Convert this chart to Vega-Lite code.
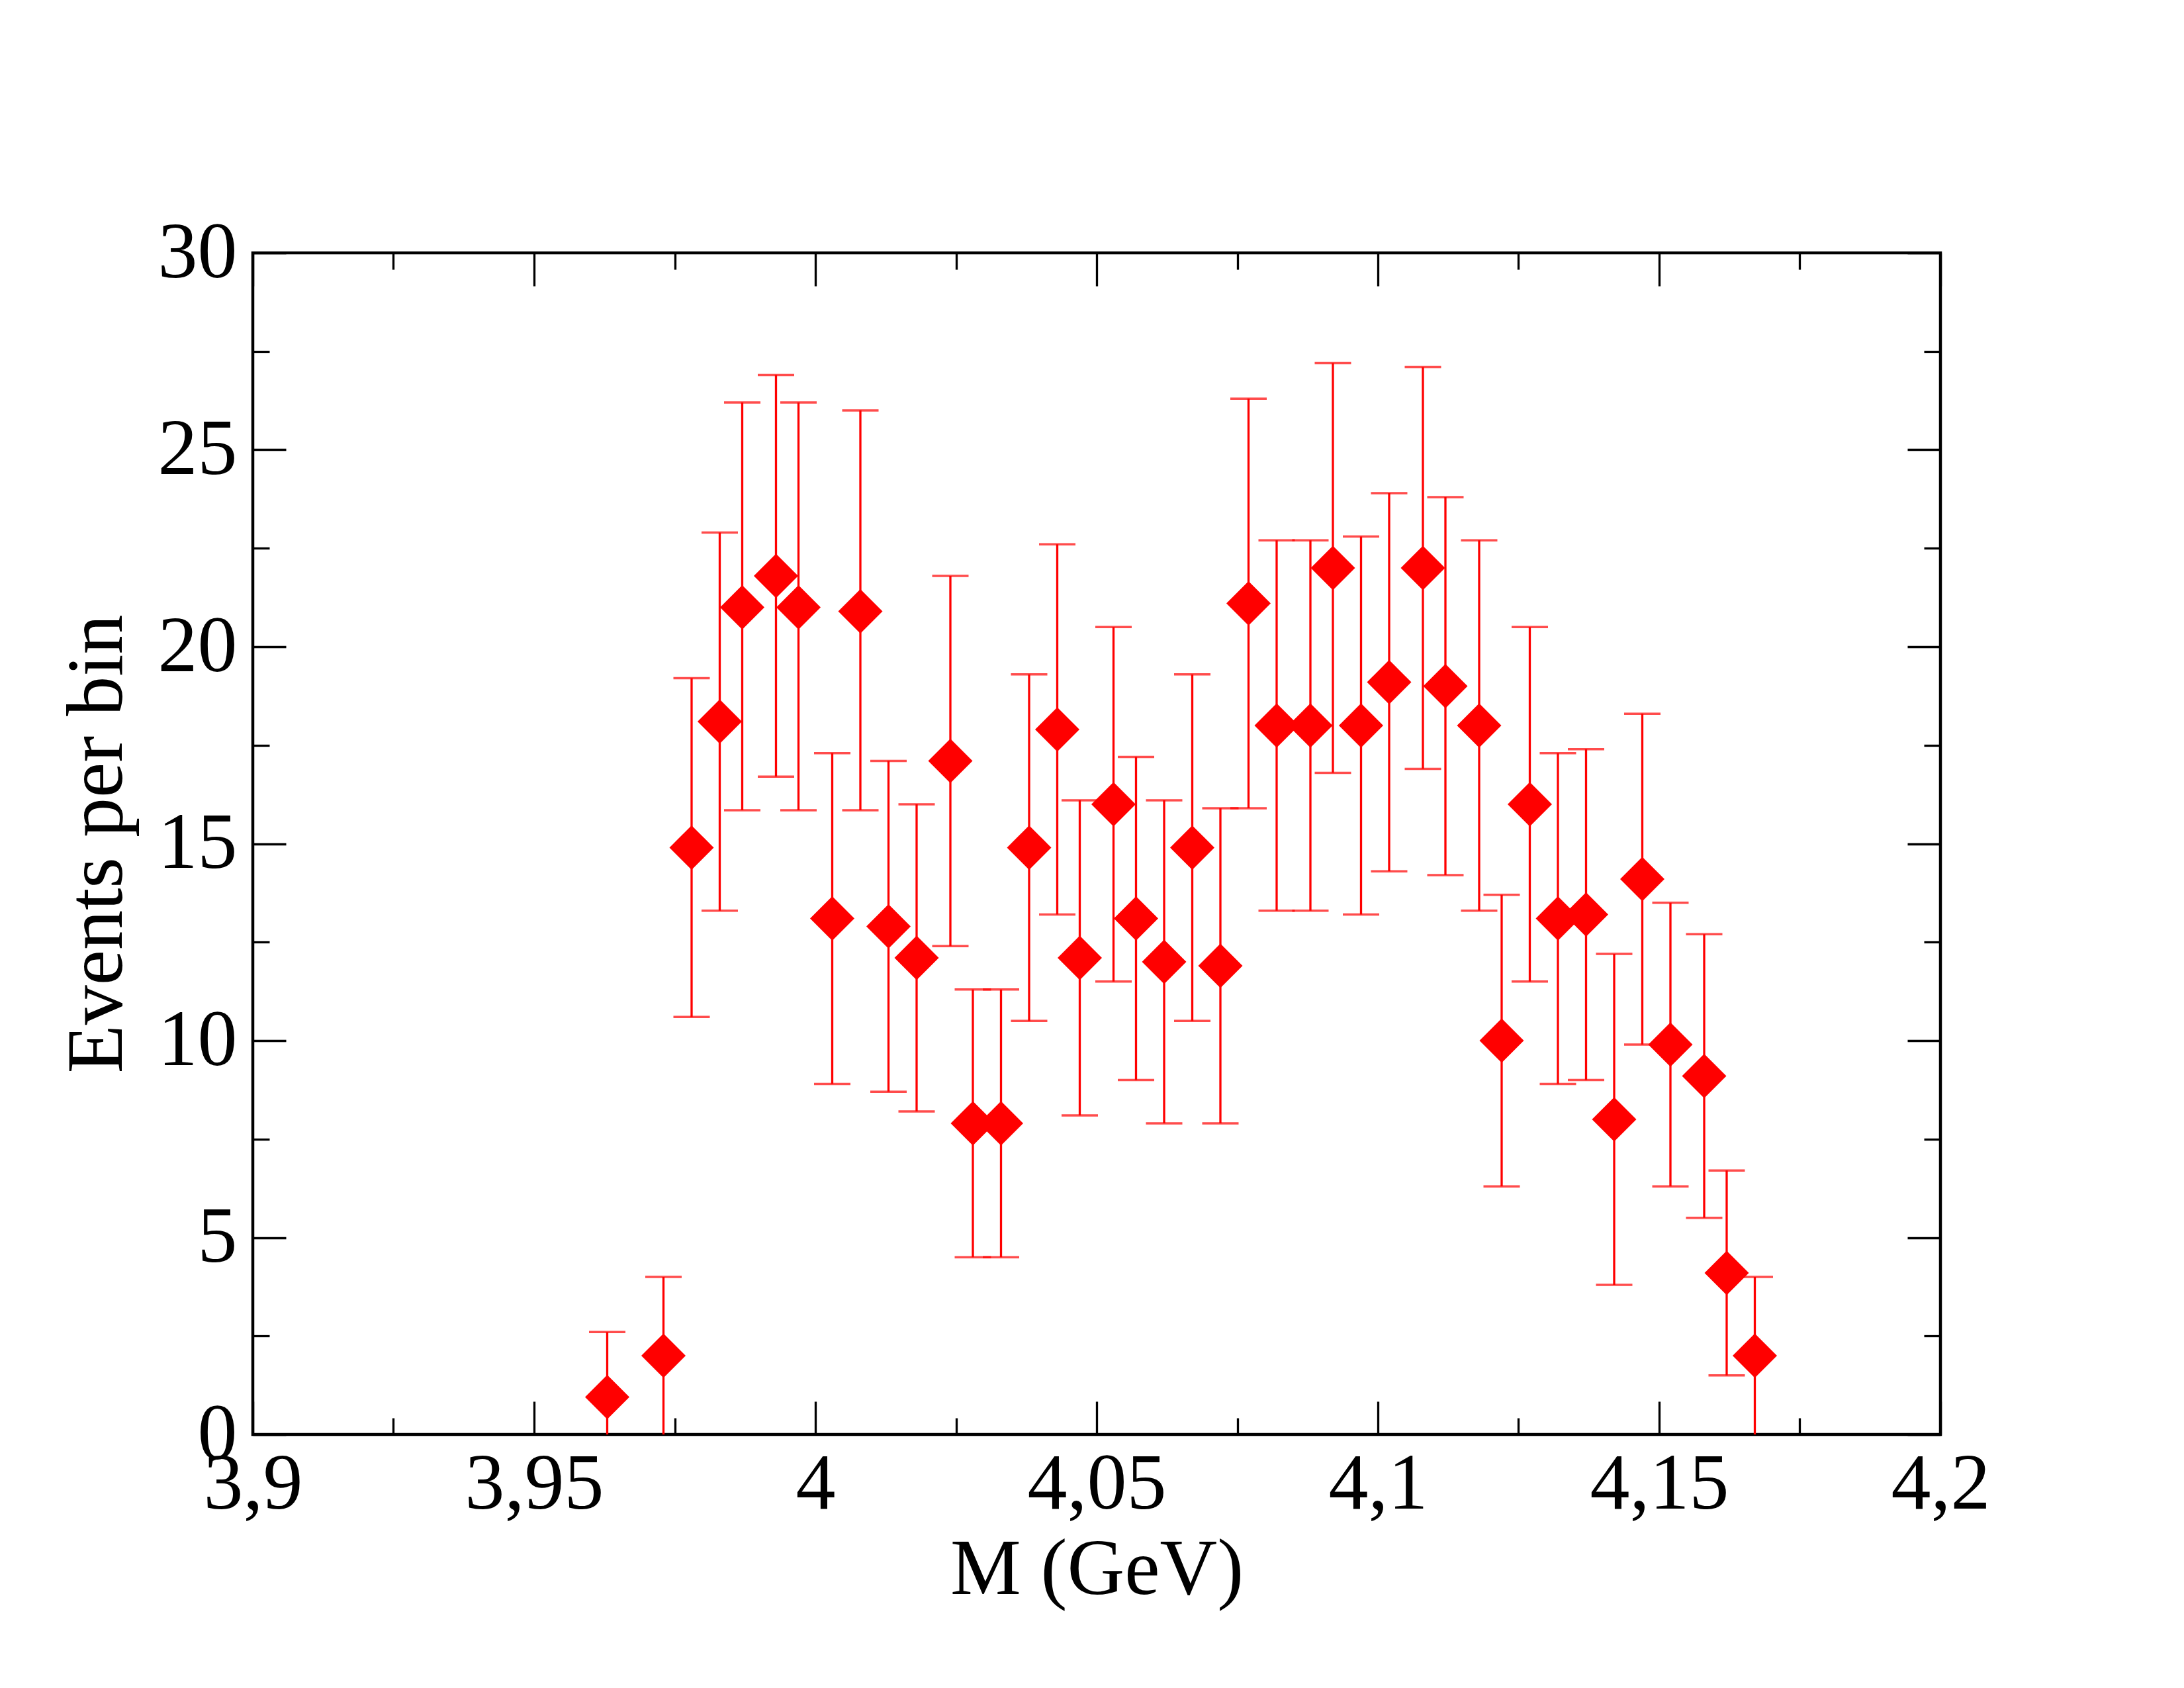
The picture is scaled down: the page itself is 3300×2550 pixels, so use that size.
{
  "$schema": "https://vega.github.io/schema/vega-lite/v6.json",
  "width": 2550,
  "height": 1785,
  "autosize": "none",
  "padding": {"left": 382, "top": 382, "right": 368, "bottom": 383},
  "background": "white",
  "config": {
    "view": {"stroke": "black", "strokeWidth": 4.5},
    "axis": {
      "grid": false,
      "domain": false,
      "tickColor": "black",
      "tickWidth": 3.3,
      "labelFont": "Liberation Serif",
      "labelFontSize": 120,
      "labelColor": "black",
      "labelLimit": 0,
      "titleFont": "Liberation Serif",
      "titleFontSize": 120,
      "titleFontWeight": "normal",
      "titleColor": "black",
      "titleLimit": 0
    }
  },
  "data": {
    "values": [
      {"m": 3.963, "n": 0.95, "lo": -0.6, "hi": 2.6},
      {"m": 3.973, "n": 2.0, "lo": -0.5, "hi": 4.0},
      {"m": 3.978, "n": 14.9, "lo": 10.6, "hi": 19.2},
      {"m": 3.983, "n": 18.1, "lo": 13.3, "hi": 22.9},
      {"m": 3.987, "n": 21.0, "lo": 15.85, "hi": 26.2},
      {"m": 3.993, "n": 21.8, "lo": 16.7, "hi": 26.9},
      {"m": 3.997, "n": 21.0, "lo": 15.85, "hi": 26.2},
      {"m": 4.003, "n": 13.1, "lo": 8.9, "hi": 17.3},
      {"m": 4.008, "n": 20.9, "lo": 15.85, "hi": 26.0},
      {"m": 4.013, "n": 12.9, "lo": 8.7, "hi": 17.1},
      {"m": 4.018, "n": 12.1, "lo": 8.2, "hi": 16.0},
      {"m": 4.024, "n": 17.1, "lo": 12.4, "hi": 21.8},
      {"m": 4.028, "n": 7.9, "lo": 4.5, "hi": 11.3},
      {"m": 4.033, "n": 7.9, "lo": 4.5, "hi": 11.3},
      {"m": 4.038, "n": 14.9, "lo": 10.5, "hi": 19.3},
      {"m": 4.043, "n": 17.9, "lo": 13.2, "hi": 22.6},
      {"m": 4.047, "n": 12.1, "lo": 8.1, "hi": 16.1},
      {"m": 4.053, "n": 16.0, "lo": 11.5, "hi": 20.5},
      {"m": 4.057, "n": 13.1, "lo": 9.0, "hi": 17.2},
      {"m": 4.062, "n": 12.0, "lo": 7.9, "hi": 16.1},
      {"m": 4.067, "n": 14.9, "lo": 10.5, "hi": 19.3},
      {"m": 4.072, "n": 11.9, "lo": 7.9, "hi": 15.9},
      {"m": 4.077, "n": 21.1, "lo": 15.9, "hi": 26.3},
      {"m": 4.082, "n": 18.0, "lo": 13.3, "hi": 22.7},
      {"m": 4.088, "n": 18.0, "lo": 13.3, "hi": 22.7},
      {"m": 4.092, "n": 22.0, "lo": 16.8, "hi": 27.2},
      {"m": 4.097, "n": 18.0, "lo": 13.2, "hi": 22.8},
      {"m": 4.102, "n": 19.1, "lo": 14.3, "hi": 23.9},
      {"m": 4.108, "n": 22.0, "lo": 16.9, "hi": 27.1},
      {"m": 4.112, "n": 19.0, "lo": 14.2, "hi": 23.8},
      {"m": 4.118, "n": 18.0, "lo": 13.3, "hi": 22.7},
      {"m": 4.122, "n": 10.0, "lo": 6.3, "hi": 13.7},
      {"m": 4.127, "n": 16.0, "lo": 11.5, "hi": 20.5},
      {"m": 4.132, "n": 13.1, "lo": 8.9, "hi": 17.3},
      {"m": 4.137, "n": 13.2, "lo": 9.0, "hi": 17.4},
      {"m": 4.142, "n": 8.0, "lo": 3.8, "hi": 12.2},
      {"m": 4.147, "n": 14.1, "lo": 9.9, "hi": 18.3},
      {"m": 4.152, "n": 9.9, "lo": 6.3, "hi": 13.5},
      {"m": 4.158, "n": 9.1, "lo": 5.5, "hi": 12.7},
      {"m": 4.162, "n": 4.1, "lo": 1.5, "hi": 6.7},
      {"m": 4.167, "n": 2.0, "lo": -0.5, "hi": 4.0}
    ]
  },
  "resolve": {"axis": {"x": "independent", "y": "independent"}},
  "layer": [
    {
      "mark": {"type": "rule", "color": "#ff0000", "strokeWidth": 3.3, "clip": true},
      "encoding": {
        "x": {
          "field": "m", "type": "quantitative",
          "scale": {"domain": [3.9, 4.2], "nice": false, "zero": false},
          "axis": {
            "orient": "bottom", "title": "M (GeV)",
            "values": [3.9, 3.95, 4.0, 4.05, 4.1, 4.15, 4.2],
            "format": ".2~f", "labelExpr": "replace(datum.label, '.', ',')",
            "tickSize": -50, "labelPadding": 66, "titlePadding": 10,
            "labelFlush": false, "labelOverlap": false
          }
        },
        "y": {
          "field": "lo", "type": "quantitative",
          "scale": {"domain": [0, 30], "nice": false},
          "axis": {
            "orient": "left", "title": "Events per bin",
            "values": [0, 5, 10, 15, 20, 25, 30],
            "tickSize": -50, "labelPadding": 74, "titlePadding": 30,
            "labelFlush": false, "labelOverlap": false
          }
        },
        "y2": {"field": "hi"}
      }
    },
    {
      "mark": {"type": "tick", "orient": "horizontal", "color": "#ff0000", "size": 55, "thickness": 3.5, "clip": true},
      "encoding": {
        "x": {
          "field": "m", "type": "quantitative",
          "scale": {"domain": [3.9, 4.2], "nice": false, "zero": false},
          "axis": {
            "orient": "bottom", "title": null, "labels": false,
            "values": [3.925, 3.975, 4.025, 4.075, 4.125, 4.175],
            "tickSize": -25
          }
        },
        "y": {
          "field": "hi", "type": "quantitative",
          "scale": {"domain": [0, 30], "nice": false},
          "axis": {
            "orient": "left", "title": null, "labels": false,
            "values": [2.5, 7.5, 12.5, 17.5, 22.5, 27.5],
            "tickSize": -25
          }
        }
      }
    },
    {
      "mark": {"type": "tick", "orient": "horizontal", "color": "#ff0000", "size": 55, "thickness": 3.5, "clip": true},
      "encoding": {
        "x": {
          "field": "m", "type": "quantitative",
          "scale": {"domain": [3.9, 4.2], "nice": false, "zero": false},
          "axis": {
            "orient": "top", "title": null, "labels": false,
            "values": [3.9, 3.95, 4.0, 4.05, 4.1, 4.15, 4.2],
            "tickSize": -50
          }
        },
        "y": {
          "field": "lo", "type": "quantitative",
          "scale": {"domain": [0, 30], "nice": false},
          "axis": {
            "orient": "right", "title": null, "labels": false,
            "values": [0, 5, 10, 15, 20, 25, 30],
            "tickSize": -50
          }
        }
      }
    },
    {
      "mark": {"type": "point", "shape": "diamond", "filled": true, "color": "#ff0000", "opacity": 1, "size": 4489, "strokeWidth": 0},
      "encoding": {
        "x": {
          "field": "m", "type": "quantitative",
          "scale": {"domain": [3.9, 4.2], "nice": false, "zero": false},
          "axis": {
            "orient": "top", "title": null, "labels": false,
            "values": [3.925, 3.975, 4.025, 4.075, 4.125, 4.175],
            "tickSize": -25
          }
        },
        "y": {
          "field": "n", "type": "quantitative",
          "scale": {"domain": [0, 30], "nice": false},
          "axis": {
            "orient": "right", "title": null, "labels": false,
            "values": [2.5, 7.5, 12.5, 17.5, 22.5, 27.5],
            "tickSize": -25
          }
        }
      }
    }
  ]
}
